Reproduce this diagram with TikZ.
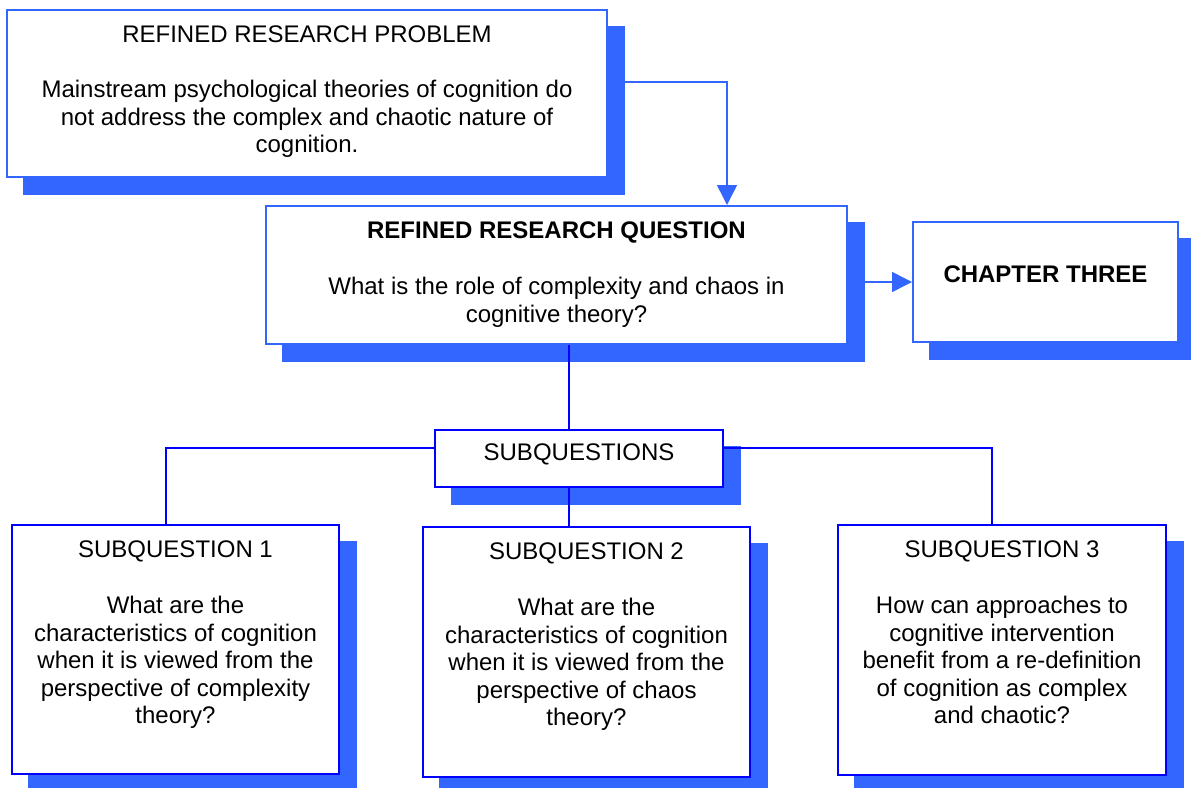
\documentclass[tikz,border=0pt]{standalone}
\usepackage{fontspec}
\setmainfont{Liberation Sans}
\usetikzlibrary{arrows.meta}
\definecolor{shadowblue}{HTML}{3366FF}
\definecolor{linkblue}{HTML}{3366FF}
\definecolor{deepblue}{HTML}{0000FF}
\pgfdeclarelayer{linklayer}
\pgfdeclarelayer{shadowlayer}
\pgfsetlayers{linklayer,shadowlayer,main}
\newcommand{\boxshadow}[1]{\fill[shade] ([shift={(17pt,-17pt)}]#1.south west) rectangle ([shift={(17pt,-17pt)}]#1.north east);}
\begin{document}
\begin{tikzpicture}[x=1pt,y=-1pt,
  topbox/.style={draw=linkblue,line width=2pt,fill=white,inner sep=0pt},
  lowbox/.style={draw=deepblue,line width=2.5pt,fill=white,inner sep=0pt},
  midbox/.style={draw=deepblue,line width=2pt,fill=white,inner sep=0pt},
  boxtext/.style={anchor=north,inner sep=0pt,align=center,font=\fontsize{24}{27.5}\selectfont},
  toplink/.style={draw=linkblue,line width=1.5pt},
  lowlink/.style={draw=deepblue,line width=1.5pt},
  tip/.style={-{Triangle[length=20pt,width=20pt]}},
  shade/.style={fill=shadowblue}]
\useasboundingbox (0,0) rectangle (1191,787);
% boxes
\node[topbox,minimum width=600pt,minimum height=167pt] (b1) at (307,93.5) {};
\node[topbox,minimum width=581pt,minimum height=138pt] (b2) at (556.5,275) {};
\node[topbox,minimum width=265pt,minimum height=120pt] (b3) at (1045.5,282) {};
\node[midbox,minimum width=288pt,minimum height=57pt] (sq) at (579,458.5) {};
\node[lowbox,minimum width=327pt,minimum height=249pt] (s1) at (175.5,649.5) {};
\node[lowbox,minimum width=327pt,minimum height=250pt] (s2) at (586.5,652) {};
\node[lowbox,minimum width=328pt,minimum height=250pt] (s3) at (1002,650) {};
% shadows
\begin{pgfonlayer}{shadowlayer}
\boxshadow{b1}
\boxshadow{b2}
\boxshadow{b3}
\boxshadow{sq}
\boxshadow{s1}
\boxshadow{s2}
\boxshadow{s3}
\end{pgfonlayer}
% upper connectors (under shadows)
\begin{pgfonlayer}{linklayer}
\draw[toplink,tip] ([yshift=11.5pt]b1.east) -| ([xshift=170.5pt]b2.north);
\draw[toplink,tip] (b3.west -| b2.east) -- (b3.west);
\end{pgfonlayer}
% lower connectors
\coordinate (vmid) at ([xshift=-10pt]sq.north);
\draw[lowlink] (vmid |- b2.south) -- (vmid);
\draw[lowlink] (vmid |- sq.south) -- (vmid |- s2.north);
\draw[lowlink] ([yshift=10.5pt]sq.west) -| ([xshift=-9.5pt]s1.north);
\draw[lowlink] ([yshift=10.5pt]sq.east) -| ([xshift=-10pt]s3.north);
% texts
\node[boxtext] (t1) at ([yshift=-14.35pt]b1.north) {\strut REFINED RESEARCH PROBLEM\\[27.5pt]
  Mainstream psychological theories of cognition do\\
  not address the complex and chaotic nature of\\
  cognition.};
\node[boxtext] (t2) at ([yshift=-14.35pt]b2.north) {\strut\textbf{REFINED RESEARCH QUESTION}\\[28.5pt]
  What is the role of complexity and chaos in\\
  cognitive theory?};
\node[boxtext] (t3) at ([yshift=-42.35pt]b3.north) {\strut\textbf{CHAPTER THREE}};
\node[boxtext] (tq) at ([yshift=-12.35pt]sq.north) {\strut SUBQUESTIONS};
\node[boxtext] (u1) at ([yshift=-14pt]s1.north) {\strut SUBQUESTION 1\\[29pt]
  What are the\\
  characteristics of cognition\\
  when it is viewed from the\\
  perspective of complexity\\
  theory?};
\node[boxtext] (u2) at ([yshift=-14pt]s2.north) {\strut SUBQUESTION 2\\[29pt]
  What are the\\
  characteristics of cognition\\
  when it is viewed from the\\
  perspective of chaos\\
  theory?};
\node[boxtext] (u3) at ([yshift=-14pt]s3.north) {\strut SUBQUESTION 3\\[29pt]
  How can approaches to\\
  cognitive intervention\\
  benefit from a re-definition\\
  of cognition as complex\\
  and chaotic?};
\end{tikzpicture}
\end{document}
